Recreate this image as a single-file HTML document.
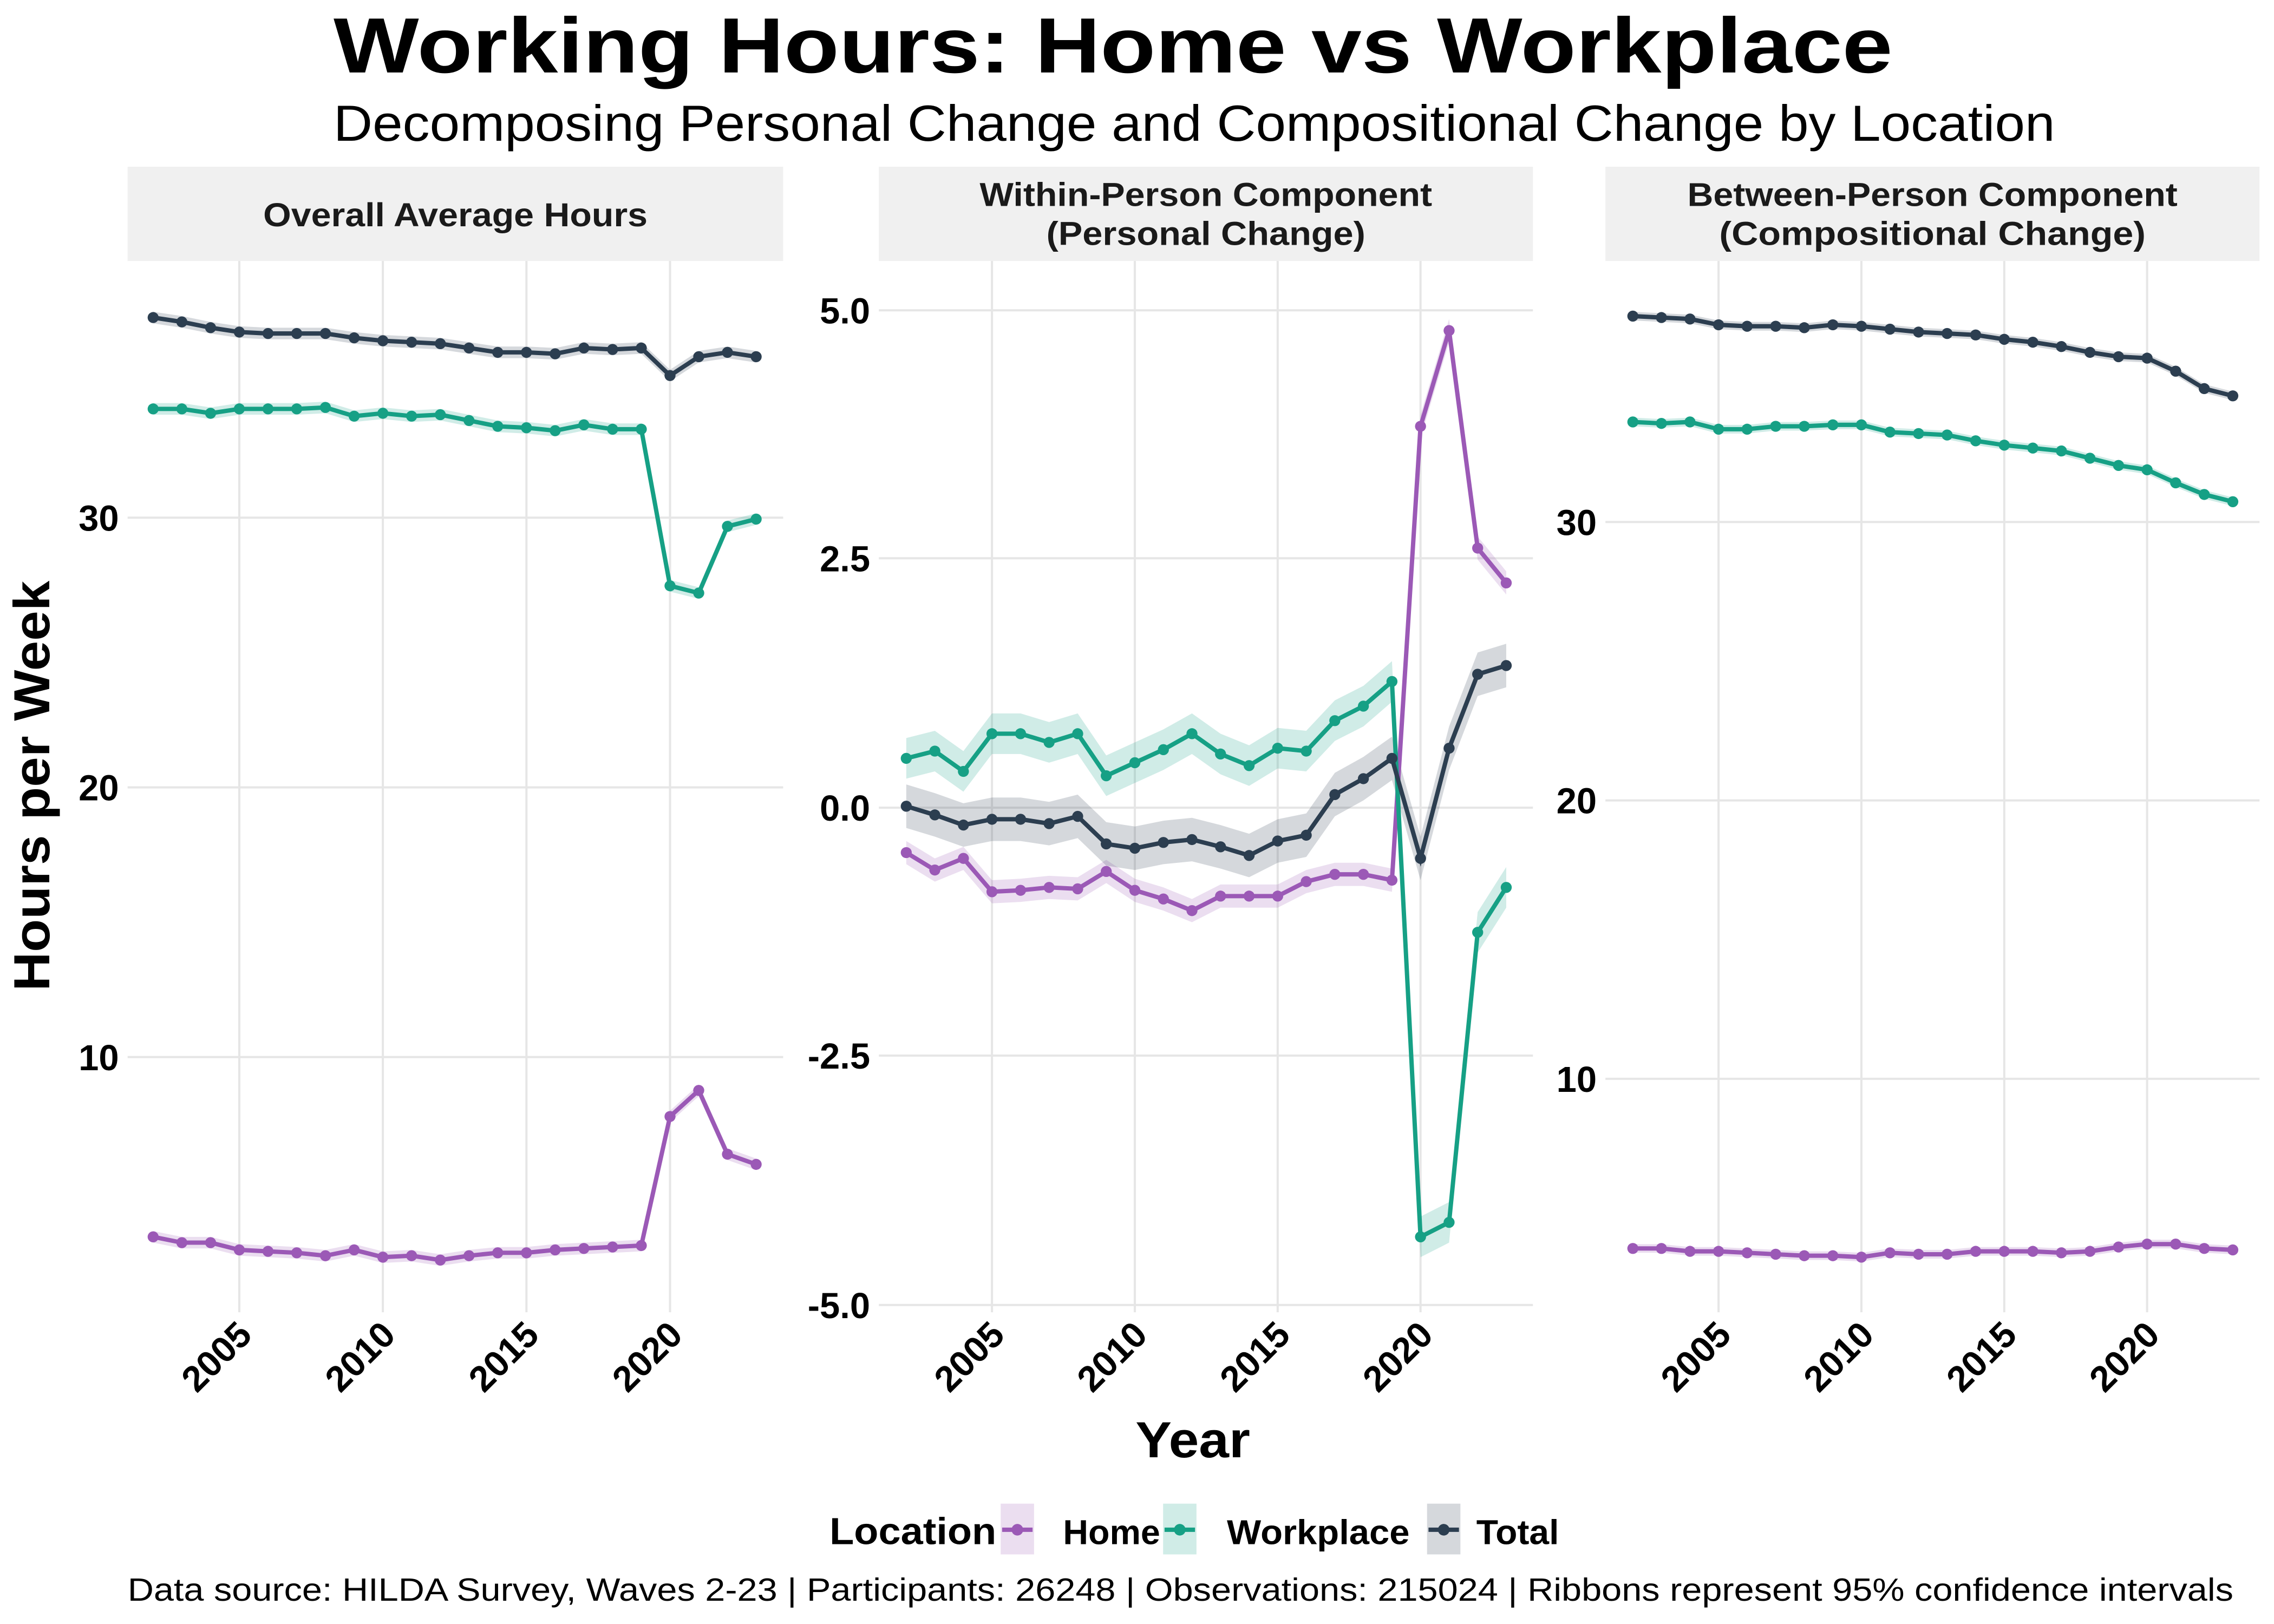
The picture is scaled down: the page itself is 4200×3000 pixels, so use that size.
<!DOCTYPE html>
<html><head><meta charset="utf-8"><style>
html,body{margin:0;padding:0;background:#fff;}
svg{display:block;font-family:"Liberation Sans",sans-serif;}
</style></head><body>
<svg id="s" width="4200" height="3000" viewBox="0 0 1568 1120" xmlns="http://www.w3.org/2000/svg">
<rect width="1568" height="1120" fill="#fff"/>
<g id="g"></g>
<text x="230" y="50" font-size="54" font-weight="bold" textLength="1075" lengthAdjust="spacingAndGlyphs">Working Hours: Home vs Workplace</text>
<text x="230" y="97" font-size="35" textLength="1187" lengthAdjust="spacingAndGlyphs">Decomposing Personal Change and Compositional Change by Location</text>
<text transform="translate(34,542) rotate(-90)" text-anchor="middle" font-size="35" font-weight="bold" textLength="283" lengthAdjust="spacingAndGlyphs">Hours per Week</text>
<text x="783" y="1005" font-size="35" font-weight="bold" textLength="79" lengthAdjust="spacingAndGlyphs">Year</text>
<text x="572" y="1065" font-size="26" font-weight="bold" textLength="115" lengthAdjust="spacingAndGlyphs">Location</text>
<rect x="690" y="1037" width="23" height="35" fill="#9b59b6" fill-opacity="0.2"/>
<line x1="691" y1="1055" x2="712" y2="1055" stroke="#9b59b6" stroke-width="3"/><circle cx="701.5" cy="1055" r="4" fill="#9b59b6"/>
<text x="733" y="1065" font-size="24" font-weight="bold" textLength="67" lengthAdjust="spacingAndGlyphs">Home</text>
<rect x="802" y="1037" width="23" height="35" fill="#16a085" fill-opacity="0.2"/>
<line x1="803" y1="1055" x2="824" y2="1055" stroke="#16a085" stroke-width="3"/><circle cx="813.5" cy="1055" r="4" fill="#16a085"/>
<text x="846" y="1065" font-size="24" font-weight="bold" textLength="126" lengthAdjust="spacingAndGlyphs">Workplace</text>
<rect x="984" y="1037" width="23" height="35" fill="#2c3e50" fill-opacity="0.2"/>
<line x1="985" y1="1055" x2="1006" y2="1055" stroke="#2c3e50" stroke-width="3"/><circle cx="995.5" cy="1055" r="4" fill="#2c3e50"/>
<text x="1018" y="1065" font-size="24" font-weight="bold" textLength="57" lengthAdjust="spacingAndGlyphs">Total</text>
<text x="88" y="1104" font-size="22" textLength="1452" lengthAdjust="spacingAndGlyphs">Data source: HILDA Survey, Waves 2-23 | Participants: 26248 | Observations: 215024 | Ribbons represent 95% confidence intervals</text>
</svg>
<script>
const g=document.getElementById('g');let h='';
const C={home:'#9b59b6',work:'#16a085',tot:'#2c3e50'};
const panels=[
{x0:88,x1:540,x2005:165,dx:19.8,title:['Overall Average Hours'],tl:[265],
 yt:[[357,'30'],[543,'20'],[729,'10']],
 s:[['tot',[219,222,226,229,230,230,230,233,235,236,237,240,243,243,244,240,241,240,259,246,243,246],4],
    ['work',[282,282,285,282,282,282,281,287,285,287,286,290,294,295,297,293,296,296,404,409,363,358],4],
    ['home',[853,857,857,862,863,864,866,862,867,866,869,866,864,864,862,861,860,859,770,752,796,803],4]]},
{x0:606,x1:1057,x2005:684,dx:19.7,title:['Within-Person Component','(Personal Change)'],tl:[312,220],
 yt:[[214,'5.0'],[385,'2.5'],[557,'0.0'],[728,'-2.5'],[900,'-5.0']],
 s:[['home',[588,600,592,615,614,612,613,601,614,620,628,618,618,618,608,603,603,607,294,228,378,402],8],
    ['work',[523,518,532,506,506,512,506,535,526,517,506,520,528,516,518,497,487,470,853,843,643,612],14],
    ['tot',[556,562,569,565,565,568,563,582,585,581,579,584,590,580,576,548,537,523,592,516,465,459],15]]},
{x0:1107,x1:1558,x2005:1185,dx:19.7,title:['Between-Person Component','(Compositional Change)'],tl:[338,294],
 yt:[[360,'30'],[552,'20'],[744,'10']],
 s:[['tot',[218,219,220,224,225,225,226,224,225,227,229,230,231,234,236,239,243,246,247,256,268,273],3],
    ['work',[291,292,291,296,296,294,294,293,293,298,299,300,304,307,309,311,316,321,324,333,341,346],3],
    ['home',[861,861,863,863,864,865,866,866,867,864,865,865,863,863,863,864,863,860,858,858,861,862],3]]}];
const T=(x,y,t,L,fs)=>`<text x="${x}" y="${y}" text-anchor="middle" font-size="${fs}" font-weight="bold" fill="#1a1a1a" textLength="${L}" lengthAdjust="spacingAndGlyphs">${t}</text>`;
for(const p of panels){
 h+=`<rect x="${p.x0}" y="115" width="${p.x1-p.x0}" height="65" fill="#f0f0f0"/>`;
 const cx=(p.x0+p.x1)/2;
 if(p.title.length==1)h+=T(cx,156,p.title[0],p.tl[0],23);
 else h+=T(cx,142,p.title[0],p.tl[0],23)+T(cx,169,p.title[1],p.tl[1],23);
 for(const [y,l] of p.yt){h+=`<line x1="${p.x0}" x2="${p.x1}" y1="${y}" y2="${y}" stroke="#e6e6e6" stroke-width="1.5"/>`;
  h+=`<text x="${p.x0-6}" y="${y+9}" text-anchor="end" font-size="25" font-weight="bold">${l}</text>`;}
 for(let k=0;k<4;k++){const x=p.x2005+k*5*p.dx;
  h+=`<line x1="${x}" x2="${x}" y1="180" y2="905" stroke="#e6e6e6" stroke-width="1.5"/>`;
  h+=`<text transform="translate(${x+10},${922}) rotate(-45)" text-anchor="end" font-size="25" font-weight="bold">${2005+5*k}</text>`;}
 const X=i=>p.x2005+(i-3)*p.dx;
 for(const [c,ys,w] of p.s){
  let up=ys.map((y,i)=>`${X(i)},${y-w}`),dn=ys.map((y,i)=>`${X(i)},${y+w}`).reverse();
  h+=`<polygon points="${up.concat(dn).join(' ')}" fill="${C[c]}" fill-opacity="0.2"/>`;
 }
 for(const [c,ys,w] of p.s){
  h+=`<polyline points="${ys.map((y,i)=>X(i)+','+y).join(' ')}" fill="none" stroke="${C[c]}" stroke-width="3"/>`;
  h+=ys.map((y,i)=>`<circle cx="${X(i)}" cy="${y}" r="3.8" fill="${C[c]}"/>`).join('');
 }
}
g.innerHTML=h;
</script>
</body></html>
